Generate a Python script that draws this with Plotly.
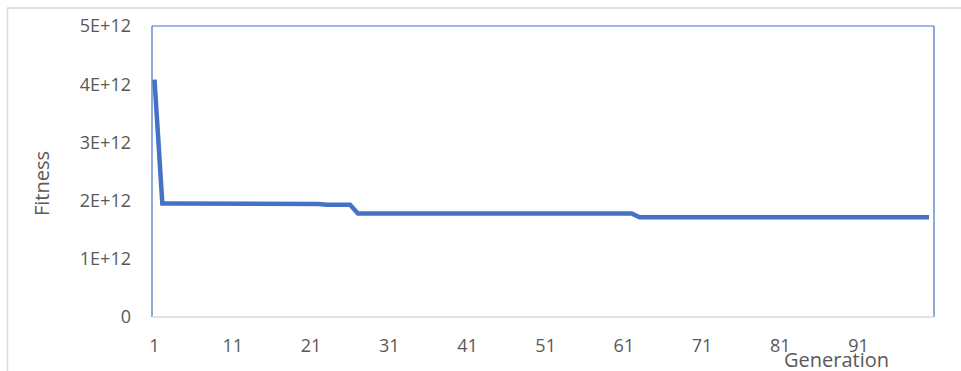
import plotly.graph_objects as go

# Best fitness per generation of the genetic algorithm run
generations = list(range(1, 101))
fitness = (
    [4.08e12]
    + [1.95e12] * 7      # gens 2-8
    + [1.94e12] * 14     # gens 9-22
    + [1.93e12] * 4      # gens 23-26
    + [1.78e12] * 36     # gens 27-62
    + [1.715e12] * 38    # gens 63-100
)

x_tick_vals = list(range(1, 101, 10))
x_tick_text = [str(v) for v in x_tick_vals]
y_tick_vals = [0, 1e12, 2e12, 3e12, 4e12, 5e12]
y_tick_text = ["0", "1E+12", "2E+12", "3E+12", "4E+12", "5E+12"]

W, H = 961, 371
L, R, T, B = 152, 27, 26, 54
pw, ph = W - L - R, H - T - B

def px(xp):
    return (xp - L) / pw

def py(yp):
    return (H - B - yp) / ph

text_col = "#595959"
font_family = "Open Sans, Noto Sans, sans-serif"

fig = go.Figure()
fig.add_trace(go.Scatter(
    x=generations, y=fitness, mode="lines",
    line=dict(color="#4472C4", width=4.5),
    hoverinfo="skip", showlegend=False,
))

shapes = [
    # plot area frame
    dict(type="line", xref="paper", yref="paper", x0=0, x1=0, y0=0, y1=1,
         line=dict(color="#4472C4", width=1.2)),
    dict(type="line", xref="paper", yref="paper", x0=0, x1=1, y0=1, y1=1,
         line=dict(color="#4472C4", width=1.2)),
    dict(type="line", xref="paper", yref="paper", x0=1, x1=1, y0=0, y1=1,
         line=dict(color="#4472C4", width=1.2)),
    dict(type="line", xref="paper", yref="paper", x0=0, x1=1, y0=0, y1=0,
         line=dict(color="#D9D9D9", width=1.5)),
    # chart area edges
    dict(type="line", xref="paper", yref="paper", x0=px(7), x1=px(961), y0=py(8), y1=py(8),
         line=dict(color="#D9D9D9", width=1.5)),
    dict(type="line", xref="paper", yref="paper", x0=px(7.5), x1=px(7.5), y0=py(8), y1=py(371),
         line=dict(color="#D9D9D9", width=1.5)),
]

fig.update_layout(
    width=W, height=H,
    margin=dict(l=L, r=R, t=T, b=B),
    paper_bgcolor="white", plot_bgcolor="white",
    font=dict(family=font_family, size=18, color=text_col),
    shapes=shapes,
    xaxis=dict(
        range=[0.68, 100.64], tickmode="array", tickvals=x_tick_vals, ticktext=x_tick_text,
        showgrid=False, zeroline=False, showline=False, ticks="",
        ticklabelstandoff=16, tickfont=dict(size=18, color=text_col),
    ),
    yaxis=dict(
        range=[0, 5e12], tickmode="array", tickvals=y_tick_vals, ticktext=y_tick_text,
        showgrid=False, zeroline=False, showline=False, ticks="",
        ticklabelstandoff=20, tickfont=dict(size=18, color=text_col),
    ),
    annotations=[
        dict(text="Fitness", xref="paper", yref="paper", x=px(41), y=py(184),
             xanchor="center", yanchor="middle", textangle=-90, showarrow=False,
             font=dict(size=20, color=text_col)),
        dict(text="Generation", xref="paper", yref="paper", x=px(836), y=py(359),
             xanchor="center", yanchor="middle", showarrow=False,
             font=dict(size=20, color=text_col)),
    ],
)

fig.write_html("out.html")
